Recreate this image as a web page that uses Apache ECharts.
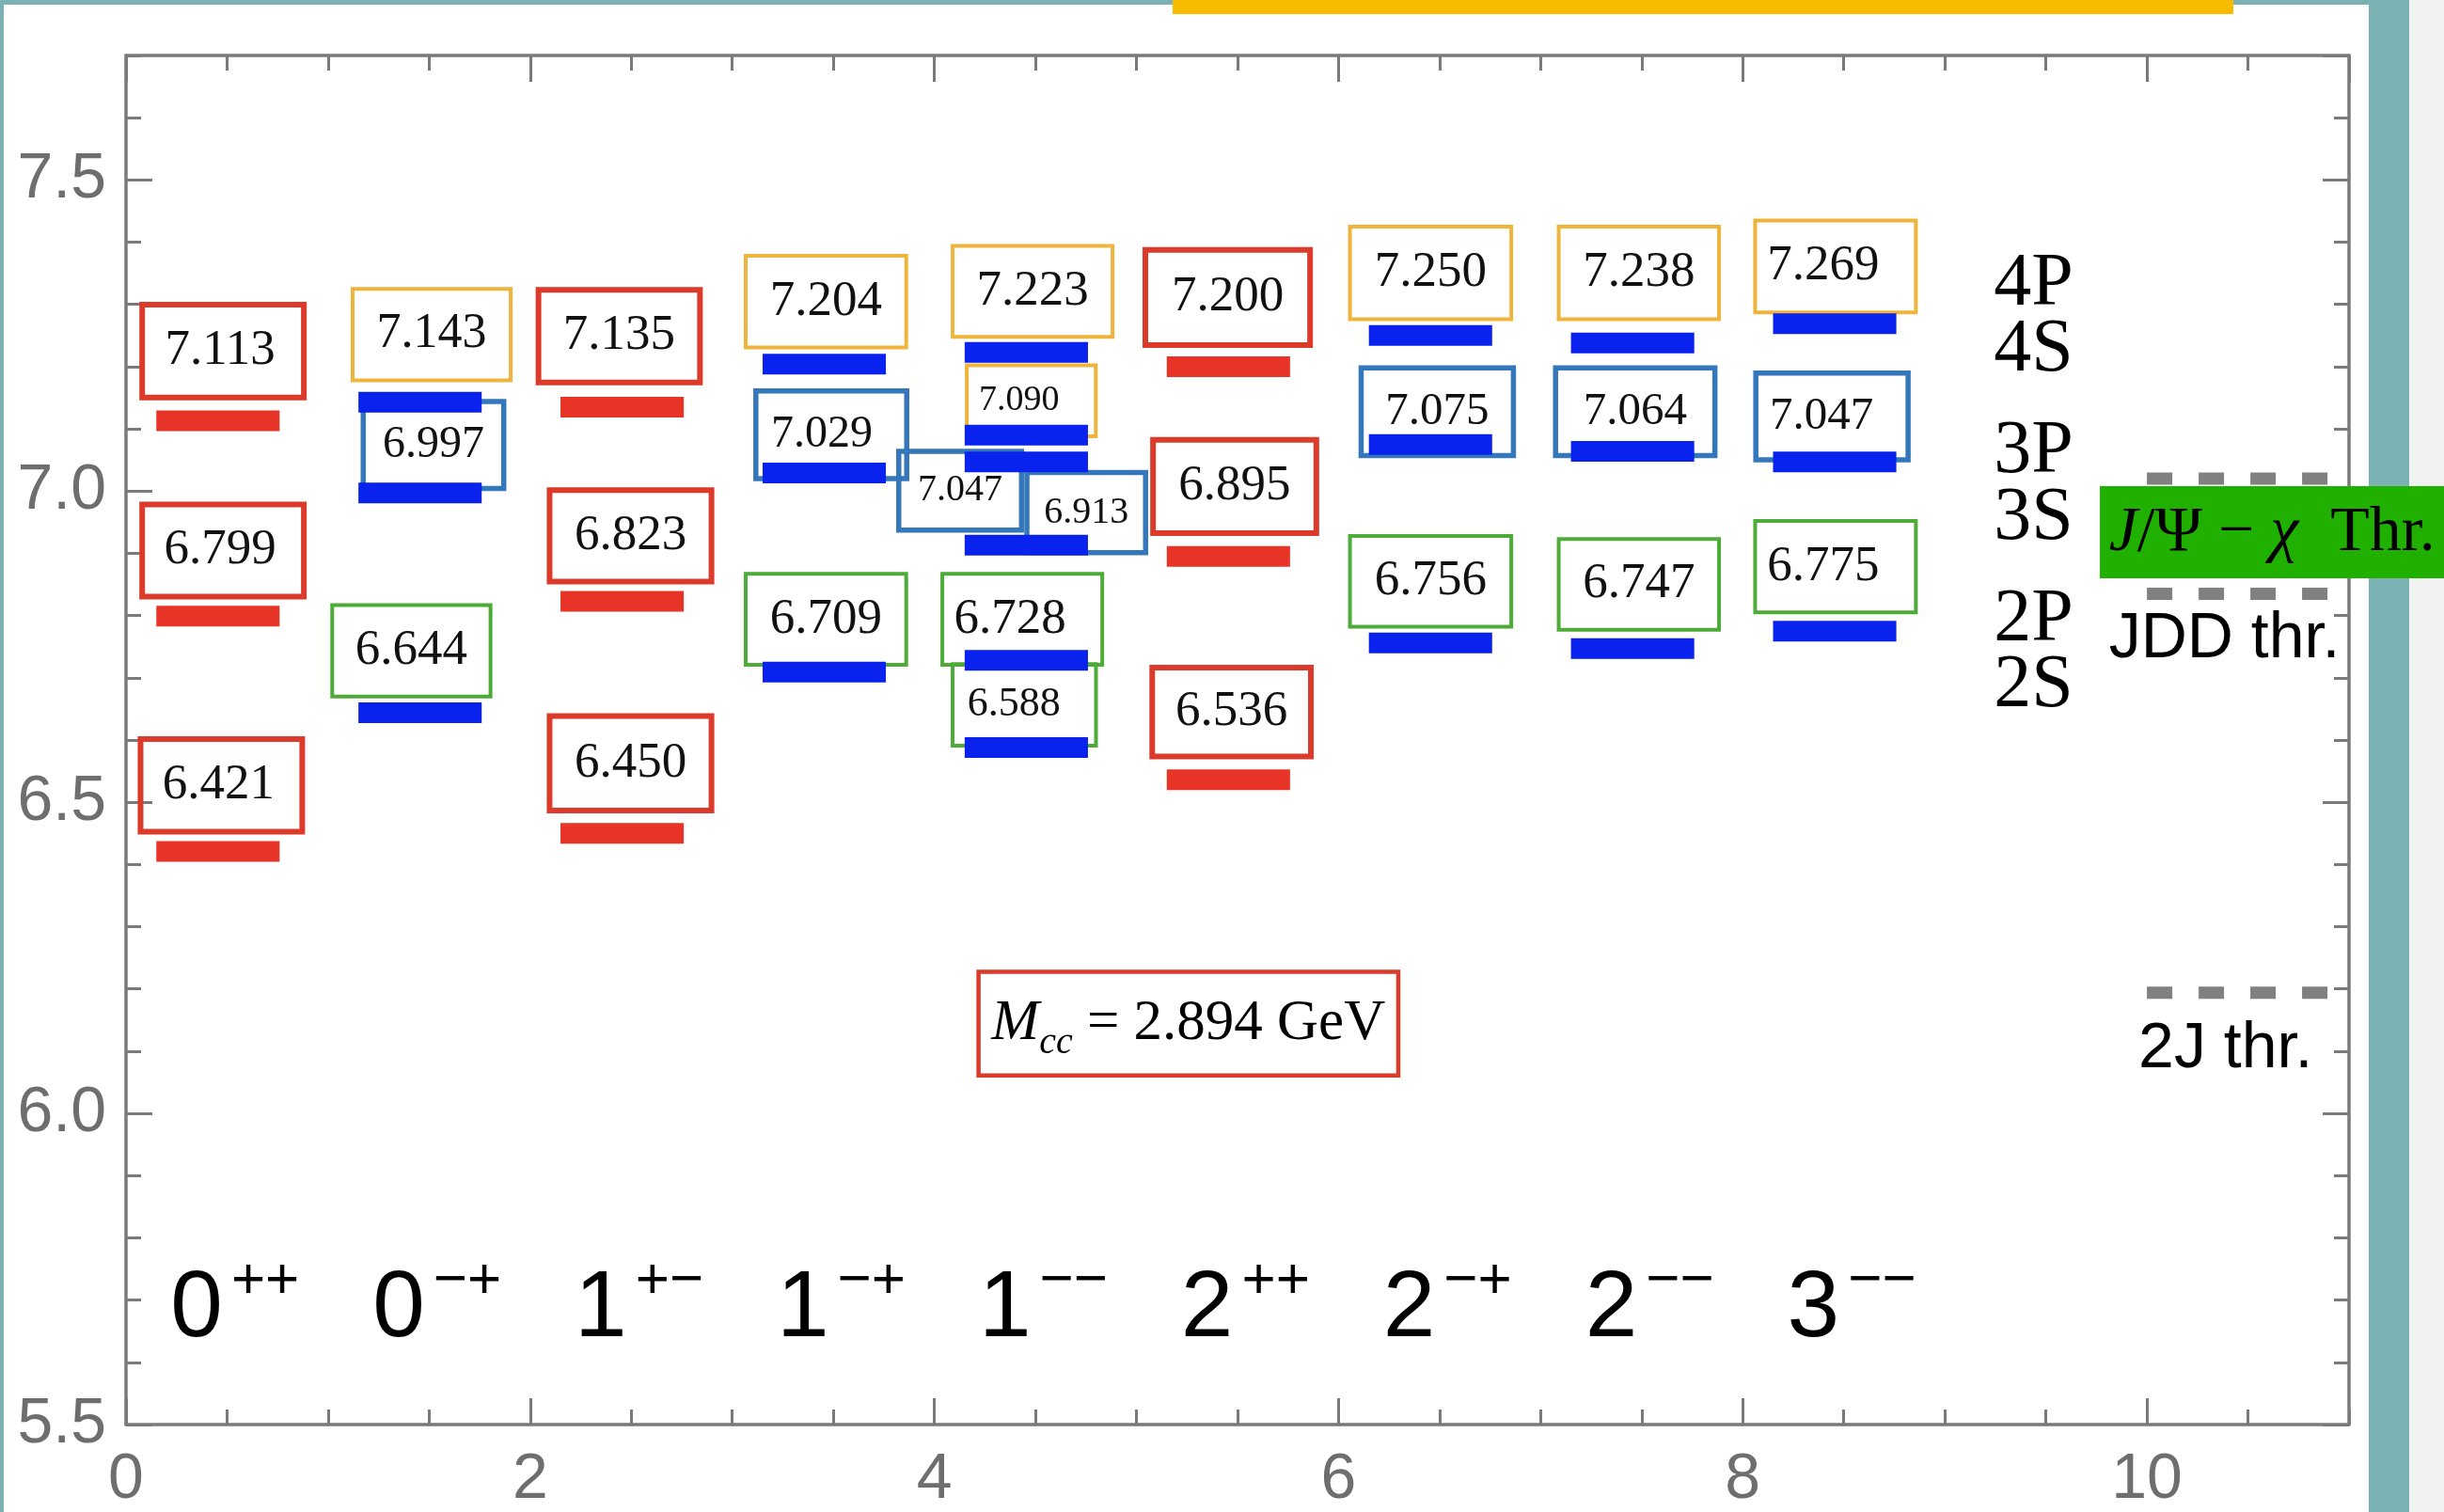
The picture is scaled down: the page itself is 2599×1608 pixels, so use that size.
<!DOCTYPE html>
<html>
<head>
<meta charset="utf-8">
<script src="https://cdn.jsdelivr.net/npm/echarts@6/dist/echarts.min.js"></script>
<style>
  html, body { margin: 0; padding: 0; width: 2599px; height: 1608px; overflow: hidden; background: #7ab2b3; }
  #paper  { position: absolute; left: 4px; top: 5px; width: 2515px; height: 1603px; background: #ffffff; }
  #edge   { position: absolute; left: 2562px; top: 0; width: 37px; height: 1608px; background: #f2f2f2; }
  #banner { position: absolute; left: 1247px; top: 0; width: 1128px; height: 15px; background: #f7bb00; }
  #chart  { position: absolute; left: 0; top: 0; width: 2599px; height: 1608px; }
</style>
</head>
<body>
<div id="paper"></div>
<div id="edge"></div>
<div id="banner"></div>
<div id="chart"></div>
<script>
// ---------------------------------------------------------------
// Data
// ---------------------------------------------------------------

// J^PC channels placed along the horizontal axis (channel k sits in [k, k+1])
const jpcSpin   = ['0', '0', '1', '1', '1', '2', '2', '2', '3'];
const jpcParity = ['++', '−+', '+−', '−+', '−−', '++', '−+', '−−', '−−'];

// Predicted masses in GeV, as [channel index, mass]
const redLevels = [
  [0, 7.113], [0, 6.799], [0, 6.421],
  [2, 7.135], [2, 6.823], [2, 6.450],
  [5, 7.200], [5, 6.895], [5, 6.536]
];
const blueLevels = [
  [1, 7.143], [1, 6.997], [1, 6.644],
  [3, 7.204], [3, 7.029], [3, 6.709],
  [4, 7.223], [4, 7.090], [4, 7.047], [4, 6.913], [4, 6.728], [4, 6.588],
  [6, 7.250], [6, 7.075], [6, 6.756],
  [7, 7.238], [7, 7.064], [7, 6.747],
  [8, 7.269], [8, 7.047], [8, 6.775]
];

// Two-meson thresholds in GeV
const thresholdMasses = [7.020, 6.835, 6.194];
const thresholdNames  = ['{i|J}/Ψ − {i|χ}  Thr.', 'JDD thr.', '2J thr.'];

// Diquark mass quoted in the inset (GeV)
const mccMass = 2.894;

// Excitation tags listed at the right
const waveTags = ['4P', '4S', '3P', '3S', '2P', '2S'];

// Axis tick labels
const yTickLabels = ['5.5', '6.0', '6.5', '7.0', '7.5'];
const xTickLabels = ['0', '2', '4', '6', '8', '10'];

// ---------------------------------------------------------------
// Layout and styles
// ---------------------------------------------------------------
const SERIF = '"Liberation Serif", "Times New Roman", serif';
const SANS  = '"Liberation Sans", Arial, Helvetica, sans-serif';
const AXIS_COLOR = '#7a7a7a';
const LABEL_GREY = '#6e6e6e';

const BAR_X0 = 0.15, BAR_X1 = 0.76, BAR_H = 22;
const RED_BAR = '#e73426';
const BLUE_BAR = '#0a22ee';

const frameStyles = {
  red:    { stroke: '#dc3a2a', lineWidth: 6 },
  orange: { stroke: '#efb43c', lineWidth: 4 },
  blue:   { stroke: '#3477bb', lineWidth: 5.5 },
  green:  { stroke: '#4dab38', lineWidth: 4 }
};

// Value boxes: [level set, level index, frame, x0, x1, yTop, yBottom, font px, text dx px]
const boxLayout = [
  ['red', 0, 'red', 0.066, 0.894, 7.304, 7.146, 53, -3],
  ['red', 1, 'red', 0.066, 0.894, 6.983, 6.826, 53, -3],
  ['red', 2, 'red', 0.058, 0.886, 6.606, 6.448, 53, -3],
  ['red', 3, 'red', 2.027, 2.854, 7.328, 7.170, 53, 0],
  ['red', 4, 'red', 2.082, 2.911, 7.006, 6.850, 53, 0],
  ['red', 5, 'red', 2.082, 2.911, 6.643, 6.482, 53, 0],
  ['red', 6, 'red', 5.030, 5.873, 7.392, 7.230, 53, 0],
  ['red', 7, 'red', 5.068, 5.904, 7.087, 6.928, 53, 0],
  ['red', 8, 'red', 5.064, 5.877, 6.721, 6.569, 53, 0],

  ['blue', 0,  'orange', 1.112, 1.913, 7.328, 7.175, 52, 0],
  ['blue', 1,  'blue',   1.161, 1.882, 7.148, 7.000, 48, 0],
  ['blue', 2,  'green',  1.011, 1.813, 6.820, 6.667, 53, 0],
  ['blue', 3,  'orange', 3.057, 3.870, 7.381, 7.228, 53, 0],
  ['blue', 4,  'blue',   3.104, 3.876, 7.165, 7.016, 48, -10],
  ['blue', 5,  'green',  3.057, 3.870, 6.870, 6.718, 53, 0],
  ['blue', 6,  'orange', 4.081, 4.891, 7.397, 7.245, 53, 0],
  ['blue', 7,  'orange', 4.151, 4.808, 7.205, 7.085, 38, -13],
  ['blue', 8,  'blue',   3.811, 4.444, 7.068, 6.933, 40, 0],
  ['blue', 9,  'blue',   4.445, 5.058, 7.034, 6.897, 40, 0],
  ['blue', 10, 'green',  4.030, 4.840, 6.870, 6.718, 53, -13],
  ['blue', 11, 'green',  4.081, 4.809, 6.725, 6.588, 44, -11],
  ['blue', 12, 'orange', 6.047, 6.864, 7.428, 7.273, 53, 0],
  ['blue', 13, 'blue',   6.099, 6.878, 7.202, 7.053, 49, 0],
  ['blue', 14, 'green',  6.047, 6.864, 6.931, 6.779, 53, 0],
  ['blue', 15, 'orange', 7.080, 7.892, 7.428, 7.273, 53, 0],
  ['blue', 16, 'blue',   7.061, 7.875, 7.202, 7.053, 49, 0],
  ['blue', 17, 'green',  7.080, 7.892, 6.926, 6.774, 53, 0],
  ['blue', 18, 'orange', 8.052, 8.866, 7.438, 7.284, 53, -13],
  ['blue', 19, 'blue',   8.052, 8.831, 7.194, 7.046, 49, -11],
  ['blue', 20, 'green',  8.052, 8.866, 6.955, 6.802, 53, -13]
];

// Channel labels: left edge offset within the channel, vertical centre, fonts
const CAT_X = 0.22, CAT_Y = 5.684;
const CAT_FONT = 100, CAT_SUP_FONT = 62, CAT_SUP_GAP = 9, CAT_SUP_RISE = 30;

// Excitation tags: left edge and vertical centres
const WAVE_X = 9.242;
const waveTagY = [7.332, 7.225, 7.0625, 6.955, 6.7915, 6.686];

// Threshold dashes and their captions
const THR_X0 = 10.0, THR_X1 = 10.9;
const thresholdCaption = [
  { x: 9.812, y: 6.932, box: [9.767, 12.2, 7.008, 6.860], serif: true },
  { x: 9.812, y: 6.761 },
  { x: 9.958, y: 6.102 }
];

// Inset box with the diquark mass
const MCC_BOX = [4.208, 6.306, 6.231, 6.0575];

// ---------------------------------------------------------------
// Chart
// ---------------------------------------------------------------
const measureCtx = document.createElement('canvas').getContext('2d');
function textWidth(str, font) {
  measureCtx.font = font;
  return measureCtx.measureText(str).width;
}

const chart = echarts.init(document.getElementById('chart'), null, { renderer: 'canvas' });

function barRenderer(color) {
  return function (params, api) {
    const k = api.value(0), m = api.value(1);
    const a = api.coord([k + BAR_X0, m]);
    const b = api.coord([k + BAR_X1, m]);
    return {
      type: 'rect',
      shape: { x: a[0], y: a[1] - BAR_H / 2, width: b[0] - a[0], height: BAR_H },
      style: { fill: color }
    };
  };
}

function frameRect(p0, p1, stroke, w) {
  return {
    type: 'rect',
    shape: { x: p0[0] + w / 2, y: p0[1] + w / 2, width: p1[0] - p0[0] - w, height: p1[1] - p0[1] - w },
    style: { fill: 'none', stroke: stroke, lineWidth: w }
  };
}

const majorTick = { show: true, inside: true, length: 28, lineStyle: { color: AXIS_COLOR, width: 3 } };
const minorTick = { show: true, inside: true, length: 16, lineStyle: { color: AXIS_COLOR, width: 3 } };
const frameLine = { show: true, onZero: false, lineStyle: { color: AXIS_COLOR, width: 3.5 } };
const noLine = { show: false, onZero: false };

function xAxisDef(position, interval, isMajor) {
  return {
    type: 'value', min: 0, max: 11, interval: interval, position: position,
    axisLine: isMajor ? frameLine : noLine,
    axisTick: isMajor ? majorTick : minorTick,
    splitLine: { show: false },
    axisLabel: (isMajor && position === 'bottom') ? {
      show: true, margin: 25, fontSize: 68, fontFamily: SANS, color: LABEL_GREY,
      showMaxLabel: false,
      formatter: v => xTickLabels[Math.round(v / 2)]
    } : { show: false }
  };
}
function yAxisDef(position, interval, isMajor) {
  return {
    type: 'value', min: 5.5, max: 7.7, interval: interval, position: position,
    axisLine: isMajor ? frameLine : noLine,
    axisTick: isMajor ? majorTick : minorTick,
    splitLine: { show: false },
    axisLabel: (isMajor && position === 'left') ? {
      show: true, margin: 21, fontSize: 68, fontFamily: SANS, color: LABEL_GREY,
      showMaxLabel: false,
      formatter: v => yTickLabels[Math.round((v - 5.5) / 0.5)]
    } : { show: false }
  };
}

const option = {
  animation: false,
  backgroundColor: 'transparent',
  grid: { left: 134, right: 101, top: 59, bottom: 90, containLabel: false },
  xAxis: [
    xAxisDef('bottom', 2, true),
    xAxisDef('bottom', 0.5, false),
    xAxisDef('top', 2, true),
    xAxisDef('top', 0.5, false)
  ],
  yAxis: [
    yAxisDef('left', 0.5, true),
    yAxisDef('left', 0.1, false),
    yAxisDef('right', 0.5, true),
    yAxisDef('right', 0.1, false)
  ],
  series: [
    // framed mass values
    {
      type: 'custom', clip: false, z: 3,
      data: boxLayout.map(b => [b[3], b[5]]),
      renderItem: function (params, api) {
        const b = boxLayout[params.dataIndex];
        const level = (b[0] === 'red' ? redLevels : blueLevels)[b[1]];
        const fs = frameStyles[b[2]];
        const p0 = api.coord([b[3], b[5]]);
        const p1 = api.coord([b[4], b[6]]);
        return {
          type: 'group',
          children: [
            frameRect(p0, p1, fs.stroke, fs.lineWidth),
            {
              type: 'text',
              x: (p0[0] + p1[0]) / 2 + b[8],
              y: (p0[1] + p1[1]) / 2,
              style: {
                text: level[1].toFixed(3), fontSize: b[7], fontFamily: SERIF,
                fill: '#111111', align: 'center', verticalAlign: 'middle'
              }
            }
          ]
        };
      }
    },
    // level bars
    { type: 'custom', clip: false, z: 5, data: redLevels, renderItem: barRenderer(RED_BAR) },
    { type: 'custom', clip: false, z: 5, data: blueLevels, renderItem: barRenderer(BLUE_BAR) },
    // channel labels J^PC
    {
      type: 'custom', clip: false, z: 4,
      data: jpcSpin.map((s, i) => [i + CAT_X, CAT_Y]),
      renderItem: function (params, api) {
        const i = params.dataIndex;
        const p = api.coord([api.value(0), api.value(1)]);
        const dw = textWidth(jpcSpin[i], CAT_FONT + 'px ' + SANS);
        return {
          type: 'group',
          children: [
            {
              type: 'text', x: p[0], y: p[1],
              style: {
                text: jpcSpin[i], fontSize: CAT_FONT, fontFamily: SANS,
                fill: '#000000', align: 'left', verticalAlign: 'middle'
              }
            },
            {
              type: 'text', x: p[0] + dw + CAT_SUP_GAP, y: p[1] - CAT_SUP_RISE,
              style: {
                text: jpcParity[i], fontSize: CAT_SUP_FONT, fontFamily: SANS,
                fill: '#000000', align: 'left', verticalAlign: 'middle'
              }
            }
          ]
        };
      }
    },
    // excitation tags
    {
      type: 'custom', clip: false, z: 4,
      data: waveTags.map((t, i) => [WAVE_X, waveTagY[i]]),
      renderItem: function (params, api) {
        const p = api.coord([api.value(0), api.value(1)]);
        return {
          type: 'text', x: p[0], y: p[1],
          style: {
            text: waveTags[params.dataIndex], fontSize: 80, fontFamily: SERIF,
            fill: '#000000', align: 'left', verticalAlign: 'middle'
          }
        };
      }
    },
    // threshold dashes
    {
      type: 'custom', clip: false, z: 4,
      data: thresholdMasses.map(m => [THR_X0, m]),
      renderItem: function (params, api) {
        const m = api.value(1);
        const a = api.coord([THR_X0, m]);
        const b = api.coord([THR_X1, m]);
        return {
          type: 'line',
          shape: { x1: a[0], y1: a[1], x2: b[0], y2: b[1] },
          style: { stroke: '#808080', lineWidth: 13, lineDash: [27, 28], lineCap: 'butt' }
        };
      }
    },
    // threshold captions
    {
      type: 'custom', clip: false, z: 6,
      data: thresholdCaption.map(c => [c.x, c.y]),
      renderItem: function (params, api) {
        const c = thresholdCaption[params.dataIndex];
        const p = api.coord([c.x, c.y]);
        const children = [];
        if (c.box) {
          const b0 = api.coord([c.box[0], c.box[2]]);
          const b1 = api.coord([c.box[1], c.box[3]]);
          children.push({
            type: 'rect',
            shape: { x: b0[0], y: b0[1], width: b1[0] - b0[0], height: b1[1] - b0[1] },
            style: { fill: '#1fb000' }
          });
        }
        children.push({
          type: 'text', x: p[0], y: p[1],
          style: c.serif ? {
            text: thresholdNames[params.dataIndex], fontSize: 68, fontFamily: SERIF,
            fill: '#000000', align: 'left', verticalAlign: 'middle',
            rich: { i: { fontSize: 68, fontFamily: SERIF, fontStyle: 'italic', fill: '#000000', verticalAlign: 'middle' } }
          } : {
            text: thresholdNames[params.dataIndex], fontSize: 68, fontFamily: SANS,
            fill: '#000000', align: 'left', verticalAlign: 'middle'
          }
        });
        return { type: 'group', children: children };
      }
    },
    // inset with the diquark mass
    {
      type: 'custom', clip: false, z: 4,
      data: [[MCC_BOX[0], MCC_BOX[2]]],
      renderItem: function (params, api) {
        const p0 = api.coord([MCC_BOX[0], MCC_BOX[2]]);
        const p1 = api.coord([MCC_BOX[1], MCC_BOX[3]]);
        return {
          type: 'group',
          children: [
            frameRect(p0, p1, '#dc3a2a', 4.5),
            {
              type: 'text',
              x: (p0[0] + p1[0]) / 2, y: (p0[1] + p1[1]) / 2,
              style: {
                text: '{m|M}{s|cc}{t| = ' + mccMass.toFixed(3) + ' GeV}',
                align: 'center', verticalAlign: 'middle',
                rich: {
                  m: { fontSize: 61, fontFamily: SERIF, fontStyle: 'italic', fill: '#000000', verticalAlign: 'middle' },
                  s: { fontSize: 40, fontFamily: SERIF, fontStyle: 'italic', fill: '#000000', padding: [42, 0, 0, 0], verticalAlign: 'middle' },
                  t: { fontSize: 61, fontFamily: SERIF, fill: '#000000', verticalAlign: 'middle' }
                }
              }
            }
          ]
        };
      }
    }
  ]
};

chart.setOption(option);
</script>
</body>
</html>
